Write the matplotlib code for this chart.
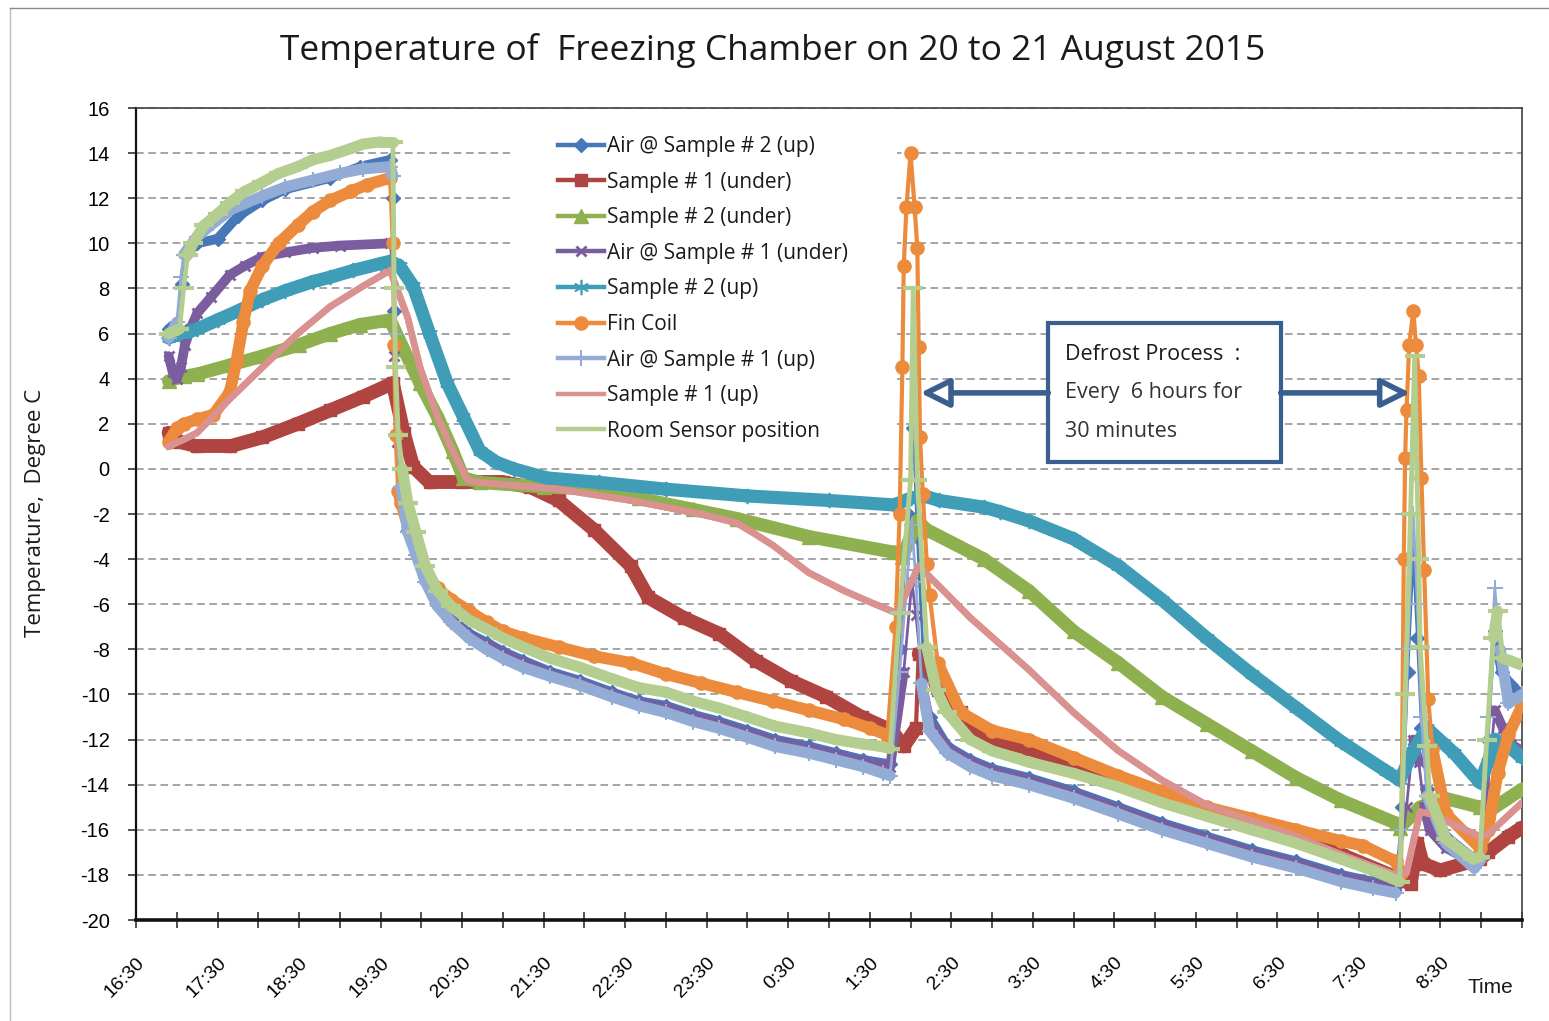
import matplotlib
matplotlib.use("Agg")
import matplotlib.pyplot as plt
from matplotlib.lines import Line2D
from matplotlib.patches import Rectangle, FancyArrowPatch
from matplotlib.collections import LineCollection
import numpy as np

# ---------------- data ----------------
# Air @ Sample # 2 (up)
db_time = ["16:54","17:00","17:04","17:07","17:15","17:30","17:45","18:03","18:20","18:53","19:15","19:37",
           "19:39","19:40","19:42","19:45","19:50","19:56","20:03","20:12","20:22","20:35","20:48","21:00",
           "21:15","21:35","21:57","22:20","22:40","23:00","23:20","23:39","0:00","0:20","0:45","1:05","1:25",
           "1:45","1:52","1:58","2:02","2:05","2:10","2:14","2:27","2:44","3:00","3:27","4:00","4:33","5:05",
           "5:38","6:11","6:44","7:17","7:40","7:57","8:02","8:06","8:10","8:13","8:16","8:20","8:34","8:55",
           "9:00","9:05","9:10","9:15","9:22","9:30"]
db_temp = [6.2,6.0,8.2,9.5,10.0,10.2,11.2,11.9,12.4,12.9,13.4,13.7,
           12.0,7.0,1.5,-0.8,-2.7,-3.6,-4.8,-5.9,-6.6,-7.3,-7.7,-8.1,
           -8.5,-9.0,-9.4,-9.9,-10.3,-10.5,-10.9,-11.2,-11.6,-12.0,-12.3,-12.6,-12.9,
           -13.1,-8.0,-2.0,1.8,-3.0,-9.0,-11.0,-12.3,-12.9,-13.3,-13.7,-14.3,-15.0,-15.7,
           -16.3,-16.9,-17.4,-18.0,-18.3,-18.5,-15.0,-9.0,-3.8,-7.5,-11.5,-14.2,-16.3,-17.3,
           -17.0,-12.0,-7.2,-9.0,-9.6,-10.0]

# Sample # 1 (under)
rd_time = ["16:54","17:02","17:15","17:39","18:03","18:29","18:53","19:17","19:39","19:47","19:54","20:06",
           "20:30","21:00","21:20","21:41","22:07","22:34","22:47","23:13","23:39","0:06","0:32","0:58",
           "1:24","1:46","1:55","2:04","2:06","2:12","2:20","2:37","2:50","3:27","4:00","4:33","5:05","5:38",
           "6:11","6:44","7:17","7:57","8:08","8:13","8:17","8:30","8:59","9:05","9:20","9:30"]
rd_temp = [1.6,1.2,1.0,1.0,1.4,2.0,2.6,3.2,3.8,1.6,0.1,-0.6,
           -0.6,-0.6,-0.8,-1.4,-2.7,-4.3,-5.7,-6.6,-7.3,-8.5,-9.4,-10.1,
           -11.0,-11.6,-12.3,-11.5,-8.2,-8.5,-9.8,-10.8,-11.8,-12.4,-13.1,-13.9,-14.6,-15.2,
           -15.8,-16.4,-17.1,-18.1,-18.4,-16.6,-17.5,-17.8,-17.3,-17.0,-16.3,-15.9]

# Sample # 2 (under)
gr_time = ["16:54","17:05","17:15","17:39","18:03","18:30","18:53","19:15","19:37","19:47","19:59","20:12",
           "20:23","20:31","20:43","21:30","22:11","22:40","23:20","23:52","0:45","1:48","1:54","2:05",
           "2:12","2:54","3:27","4:00","4:33","5:05","5:38","6:11","6:44","7:17","7:57","8:00","8:15",
           "8:33","8:59","9:05","9:30"]
gr_temp = [3.9,4.1,4.2,4.6,5.0,5.5,6.0,6.4,6.6,5.3,3.8,2.3,
           0.8,-0.4,-0.6,-0.8,-0.9,-1.3,-1.8,-2.2,-3.0,-3.7,-3.9,-2.3,
           -2.7,-4.0,-5.4,-7.2,-8.6,-10.1,-11.3,-12.5,-13.7,-14.7,-15.7,-15.9,-15.0,
           -14.6,-15.0,-15.2,-14.2]

# Air @ Sample # 1 (under)
pu_time = ["16:54","16:57","17:00","17:03","17:06","17:10","17:15","17:25","17:39","17:50","18:03","18:20",
           "18:40","19:00","19:37","19:39","19:40","19:42","19:45","19:50","19:56","20:03","20:12","20:22",
           "20:35","20:48","21:00","21:15","21:35","21:57","22:20","22:40","23:00","23:20","23:39","0:00",
           "0:20","0:45","1:05","1:25","1:45","1:55","2:01","2:04","2:10","2:14","2:27","2:44","3:00","3:27",
           "4:00","4:33","5:05","5:38","6:11","6:44","7:17","7:40","7:57","8:05","8:10","8:14","8:18","8:22",
           "8:34","8:55","9:00","9:05","9:10","9:16","9:22","9:30"]
pu_temp = [5.0,4.3,4.0,4.5,5.5,6.2,6.9,7.6,8.6,9.0,9.4,9.6,
           9.8,9.9,10.0,9.0,5.0,1.2,-0.8,-2.7,-3.7,-4.9,-6.0,-6.7,
           -7.4,-7.8,-8.2,-8.6,-9.1,-9.5,-10.0,-10.4,-10.6,-11.0,-11.3,-11.7,
           -12.1,-12.4,-12.7,-13.0,-13.2,-9.0,-5.0,-6.5,-10.0,-11.2,-12.4,-13.0,-13.4,-13.8,
           -14.4,-15.1,-15.8,-16.4,-17.0,-17.5,-18.1,-18.4,-18.5,-15.0,-12.0,-13.0,-15.0,-16.0,
           -16.8,-17.5,-17.1,-14.0,-10.7,-11.5,-12.2,-12.5]

# Sample # 2 (up)
te_time = ["16:54","17:02","17:10","17:15","17:30","17:45","18:03","18:20","18:40","18:53","19:10","19:30",
           "19:37","19:44","19:54","20:06","20:19","20:31","20:43","20:55","21:08","21:32","22:11","23:00",
           "0:00","1:00","1:48","2:00","2:10","2:21","2:54","3:06","3:27","4:00","4:33","5:05","5:38","6:11",
           "6:44","7:17","7:50","8:00","8:10","8:20","8:40","8:59","9:05","9:10","9:20","9:30"]
te_temp = [5.8,6.0,6.1,6.2,6.6,7.0,7.5,7.9,8.3,8.5,8.8,9.1,
           9.2,9.0,8.1,6.0,3.8,2.3,0.8,0.3,0.0,-0.4,-0.6,-0.9,
           -1.2,-1.4,-1.6,-1.3,-1.2,-1.4,-1.7,-1.9,-2.3,-3.1,-4.3,-5.8,-7.5,-9.1,
           -10.6,-12.1,-13.4,-13.8,-12.5,-11.5,-12.6,-13.9,-13.0,-12.0,-12.3,-12.8]

# Fin Coil
or_time = ["16:54","17:00","17:05","17:15","17:27","17:39","17:44","17:49","17:54","18:03","18:15","18:29",
           "18:40","18:53","19:08","19:20","19:37","19:39","19:40","19:41","19:43","19:45","19:50","19:56",
           "20:03","20:12","20:22","20:35","20:48","21:00","21:15","21:41","22:07","22:34","23:00","23:26",
           "23:52","0:19","0:45","1:11","1:30","1:43","1:49","1:52","1:54","1:55","1:57","2:00","2:03",
           "2:05","2:06","2:07","2:09","2:12","2:14","2:20","2:37","3:00","3:27","4:00","4:33","5:05",
           "5:38","6:11","6:44","7:17","7:33","7:57","8:01","8:03","8:04","8:05","8:07","8:10","8:12",
           "8:14","8:16","8:18","8:21","8:24","8:34","8:59","9:05","9:12","9:20","9:30"]
or_temp = [1.2,1.8,2.0,2.2,2.4,3.4,4.8,6.5,7.9,9.0,10.0,10.8,
           11.4,11.9,12.3,12.6,12.9,10.0,5.5,1.5,-1.0,-1.5,-2.5,-3.5,
           -4.6,-5.3,-5.8,-6.3,-6.8,-7.2,-7.5,-7.9,-8.3,-8.6,-9.1,-9.5,
           -9.9,-10.3,-10.7,-11.1,-11.5,-11.8,-7.0,-2.0,4.5,9.0,11.6,14.0,11.6,
           9.8,5.4,1.4,-1.1,-4.2,-5.6,-8.6,-10.8,-11.6,-12.0,-12.8,-13.6,-14.3,
           -15.0,-15.5,-16.0,-16.5,-16.7,-17.4,-17.9,-4.0,0.5,2.6,5.5,7.0,5.5,
           4.1,-0.4,-4.5,-10.2,-12.4,-15.3,-16.8,-16.0,-13.5,-11.8,-10.5]

# Air @ Sample # 1 (up)
lb_time = ["16:54","17:00","17:03","17:05","17:15","17:27","17:40","18:03","18:20","18:40","19:00","19:17",
           "19:37","19:39","19:40","19:42","19:45","19:50","19:56","20:03","20:12","20:22","20:35","20:48",
           "21:00","21:15","21:35","21:57","22:20","22:40","23:00","23:20","23:39","0:00","0:20","0:45",
           "1:05","1:25","1:40","1:45","1:52","1:58","2:01","2:04","2:08","2:14","2:27","2:44","3:00","3:27",
           "4:00","4:33","5:05","5:38","6:11","6:44","7:17","7:40","7:57","8:02","8:06","8:10","8:13","8:16",
           "8:20","8:34","8:55","9:00","9:05","9:10","9:14","9:20","9:30"]
lb_temp = [5.8,6.5,8.5,9.5,10.3,10.9,11.5,12.1,12.5,12.8,13.1,13.3,
           13.4,13.0,6.0,1.5,-0.8,-2.8,-3.8,-5.0,-6.1,-6.8,-7.5,-8.0,
           -8.4,-8.8,-9.2,-9.6,-10.1,-10.5,-10.8,-11.2,-11.5,-11.9,-12.3,-12.6,
           -12.9,-13.2,-13.5,-13.6,-9.0,-4.5,-2.5,-5.0,-9.5,-11.6,-12.6,-13.2,-13.6,-14.0,
           -14.6,-15.3,-16.0,-16.6,-17.2,-17.7,-18.3,-18.6,-18.8,-16.0,-8.0,-2.0,-6.0,-11.0,
           -14.5,-16.6,-17.7,-17.3,-11.0,-5.3,-8.0,-10.4,-10.0]

# Sample # 1 (up)
pk_time = ["16:54","17:05","17:15","17:39","18:03","18:29","18:53","19:17","19:37","19:50","19:59","20:12",
           "20:23","20:34","20:43","21:41","22:34","23:26","23:52","0:06","0:19","0:45","1:11","1:30",
           "1:50","2:06","2:21","2:44","3:27","4:00","4:33","5:05","5:38","6:11","6:44","7:17","7:57",
           "8:05","8:15","8:23","8:59","9:05","9:30"]
pk_temp = [1.0,1.3,1.6,3.1,4.5,6.0,7.2,8.1,8.8,6.7,4.5,2.3,
           0.8,-0.5,-0.6,-0.9,-1.4,-2.0,-2.4,-2.9,-3.4,-4.6,-5.4,-5.9,
           -6.4,-4.3,-5.2,-6.6,-8.9,-10.8,-12.5,-13.8,-14.9,-15.6,-16.3,-17.1,-18.0,
           -17.9,-15.2,-15.3,-16.3,-16.2,-14.8]

# Room Sensor position
rs_time = ["16:54","17:02","17:05","17:08","17:12","17:20","17:30","17:39","17:50","18:03","18:15","18:29",
           "18:40","18:53","19:08","19:17","19:30","19:39","19:40","19:41","19:43","19:46","19:50","19:56",
           "20:03","20:12","20:22","20:35","20:48","21:00","21:15","21:35","21:57","22:20","22:40","23:00",
           "23:20","23:39","0:00","0:20","0:45","1:05","1:25","1:38","1:45","1:52","2:00","2:02","2:05",
           "2:12","2:19","2:27","2:44","3:00","3:27","4:00","4:33","5:05","5:38","6:11","6:44","7:17",
           "7:40","8:00","8:04","8:08","8:11","8:14","8:15","8:20","8:22","8:34","8:54","8:59","9:04",
           "9:09","9:12","9:16","9:21","9:30"]
rs_temp = [6.0,6.2,8.0,9.5,10.0,10.8,11.3,11.8,12.3,12.7,13.1,13.4,
           13.7,13.9,14.2,14.4,14.5,14.5,8.0,4.5,1.5,0.0,-1.5,-2.8,
           -4.3,-5.4,-6.1,-6.7,-7.1,-7.5,-7.9,-8.4,-8.8,-9.3,-9.7,-9.9,
           -10.3,-10.6,-11.0,-11.4,-11.7,-12.0,-12.2,-12.3,-12.4,-6.4,-0.5,8.0,-0.5,
           -7.9,-9.8,-10.8,-12.0,-12.5,-13.0,-13.5,-14.1,-14.8,-15.4,-16.0,-16.6,-17.3,
           -17.8,-18.3,-10.0,-2.0,5.0,-4.0,-7.9,-12.3,-14.5,-16.4,-17.3,-17.2,-12.0,
           -7.5,-6.3,-8.4,-8.5,-8.7]

series_names = ["Air @ Sample # 2 (up)", "Sample # 1 (under)", "Sample # 2 (under)",
                "Air @ Sample # 1 (under)", "Sample # 2 (up)", "Fin Coil",
                "Air @ Sample # 1 (up)", "Sample # 1 (up)", "Room Sensor position"]

xtick_labels = ["16:30","17:30","18:30","19:30","20:30","21:30","22:30","23:30","0:30",
                "1:30","2:30","3:30","4:30","5:30","6:30","7:30","8:30"]
ytick_values = list(range(-20, 17, 2))

# ---------------- helpers ----------------
def hrs(ts):
    out = []
    for s in ts:
        h, m = map(int, s.split(":"))
        out.append(((h * 60 + m - (16 * 60 + 30)) % 1440) / 60.0)
    return out

plt.rcParams["font.family"] = ["Open Sans", "DejaVu Sans"]
NARROW = ["Liberation Sans Narrow", "Liberation Sans", "DejaVu Sans"]

W, H = 1549, 1021
fig = plt.figure(figsize=(W / 100, H / 100), dpi=100)
L, R, T, B = 136, 1522, 108, 920
ax = fig.add_axes([L / W, 1 - B / H, (R - L) / W, (B - T) / H])
ax.set_xlim(0, 17)
ax.set_ylim(-20, 16)

# colour, marker, marker size, thin line width, band width, marker edge width
styles = [
    dict(color="#4677B8", marker="D", ms=7, lw=2.0, band=7.0, mew=1),
    dict(color="#B04441", marker="s", ms=9, lw=3.0, band=10.0, mew=1),
    dict(color="#8EB04E", marker="^", ms=10, lw=2.5, band=9.5, mew=1),
    dict(color="#7A5C9F", marker="x", ms=7.5, lw=2.0, band=7.0, mew=2),
    dict(color="#3F9DB8", marker=(6, 2, 0), ms=11, lw=2.5, band=9.5, mew=1.2),
    dict(color="#EC8B3C", marker="o", ms=10.5, lw=3.0, band=8.5, mew=0),
    dict(color="#93ACD6", marker="+", ms=11, lw=2.0, band=8.0, mew=1.5),
    dict(color="#D9928F", marker=None, ms=0, lw=4.8, band=4.8, mew=0),
    dict(color="#B3CE8F", marker="_", ms=14, lw=3.5, band=8.0, mew=3),
]
series = [(db_time, db_temp), (rd_time, rd_temp), (gr_time, gr_temp), (pu_time, pu_temp),
          (te_time, te_temp), (or_time, or_temp), (lb_time, lb_temp), (pk_time, pk_temp),
          (rs_time, rs_temp)]

for i, ((tt, vv), name, st) in enumerate(zip(series, series_names, styles)):
    x = np.array(hrs(tt))
    y = np.array(vv, dtype=float)
    z = 3 + i * 0.3
    # dense-marker look: a thick band where the curve is not steep
    pts = ax.transData.transform(np.column_stack([x, y]))
    dx = np.abs(np.diff(pts[:, 0]))
    dy = np.abs(np.diff(pts[:, 1]))
    segs = [[(x[k], y[k]), (x[k + 1], y[k + 1])] for k in range(len(x) - 1)
            if dy[k] <= 7 * dx[k]]
    ax.add_collection(LineCollection(segs, colors=st["color"], linewidths=st["band"],
                                     capstyle="round", joinstyle="round", zorder=z))
    ax.plot(x, y, label=name, color=st["color"], marker=st["marker"],
            markersize=st["ms"], linewidth=st["lw"], markeredgewidth=st["mew"],
            solid_joinstyle="round", zorder=z + 0.1)

# grid
ax.set_yticks(ytick_values)
ax.set_yticklabels([str(v) for v in ytick_values], family=NARROW[1:])
ax.yaxis.grid(True, linestyle=(0, (5, 3)), color="#8C8C8C", linewidth=1.1)
ax.set_axisbelow(True)

# x ticks
ax.set_xticks(hrs(xtick_labels) + [17.0])
ax.set_xticklabels(xtick_labels + [""], rotation=45, ha="right", va="top",
                   rotation_mode="anchor", fontsize=14, family=NARROW)
ax.set_xticks(np.arange(0.5, 17, 1.0), minor=True)
ax.tick_params(axis="x", which="both", direction="inout", length=11, width=1.1,
               color="#222222", pad=19)
ax.tick_params(axis="y", which="major", direction="out", length=6, width=1.1,
               color="#222222", pad=13, labelsize=14.5)

for side in ["top", "right"]:
    ax.spines[side].set_color("#404040")
    ax.spines[side].set_linewidth(1.2)
ax.spines["left"].set_color("#111111")
ax.spines["left"].set_linewidth(1.6)
ax.spines["bottom"].set_color("#111111")
ax.spines["bottom"].set_linewidth(2.6)

# white panel behind legend (hides grid lines there)
def ax_frac(px, py):
    return ((px - L) / (R - L), (B - py) / (B - T))

x0, y0 = ax_frac(510, 450)
x1, y1 = ax_frac(897, 118)
ax.add_patch(Rectangle((x0, y0), x1 - x0, y1 - y0, transform=ax.transAxes,
                       facecolor="white", edgecolor="none", zorder=1))

lx, ly = ax_frac(558, 136)
leg = ax.legend(loc="upper left", bbox_to_anchor=(lx, ly), frameon=False,
                borderaxespad=0, borderpad=0, fontsize=15, handlelength=2.2,
                handletextpad=0.15, labelspacing=0.70)
for ln in leg.get_lines():
    ln.set_linewidth(3.2)
for txt in leg.get_texts():
    txt.set_color("#1a1a1a")
leg.set_zorder(12)

# annotation box and arrows
bx0, bx1 = 11.19, 14.04
by0, by1 = 0.31, 6.47
ax.add_patch(Rectangle((bx0, by0), bx1 - bx0, by1 - by0, facecolor="white",
                       edgecolor="#3A5F8E", linewidth=3.0, zorder=10))
ax.text(11.39, 5.05, "Defrost Process  :", fontsize=15.5, va="center", ha="left", zorder=11,
        color="#1a1a1a")
ax.text(11.39, 3.37, "Every  6 hours for", fontsize=15.5, va="center", ha="left", zorder=11,
        color="#333333")
ax.text(11.39, 1.64, "30 minutes", fontsize=15.5, va="center", ha="left", zorder=11,
        color="#333333")
for xs, xe in [(bx0, 9.62), (bx1, 15.63)]:
    arr = FancyArrowPatch((xs, 3.37), (xe, 3.37),
                          arrowstyle="-|>,head_length=1.1,head_width=0.55",
                          mutation_scale=16, linewidth=4.0, edgecolor="#3A5F8E",
                          facecolor="white", shrinkA=0, shrinkB=0, zorder=11)
    ax.add_patch(arr)

# titles and labels
fig.text(773 / W, 1 - 51 / H, "Temperature of  Freezing Chamber on 20 to 21 August 2015",
         ha="center", va="center", fontsize=25.5, color="#1a1a1a")
fig.text(36 / W, 1 - 513 / H, "Temperature,  Degree C", rotation=90, ha="center",
         va="center", fontsize=16, color="#1a1a1a")
fig.text(1468 / W, 1 - 987 / H, "Time", ha="left", va="center", fontsize=15,
         family=NARROW, color="#1a1a1a")

# outer chart border
fig.add_artist(Line2D([10 / W, 10 / W], [0, 1 - 8 / H], transform=fig.transFigure,
                      color="#BDBDBD", linewidth=1.0))
fig.add_artist(Line2D([10 / W, 1], [1 - 8 / H, 1 - 8 / H], transform=fig.transFigure,
                      color="#8A8A8A", linewidth=1.0))

fig.savefig("out.png", dpi=100, facecolor="white")
